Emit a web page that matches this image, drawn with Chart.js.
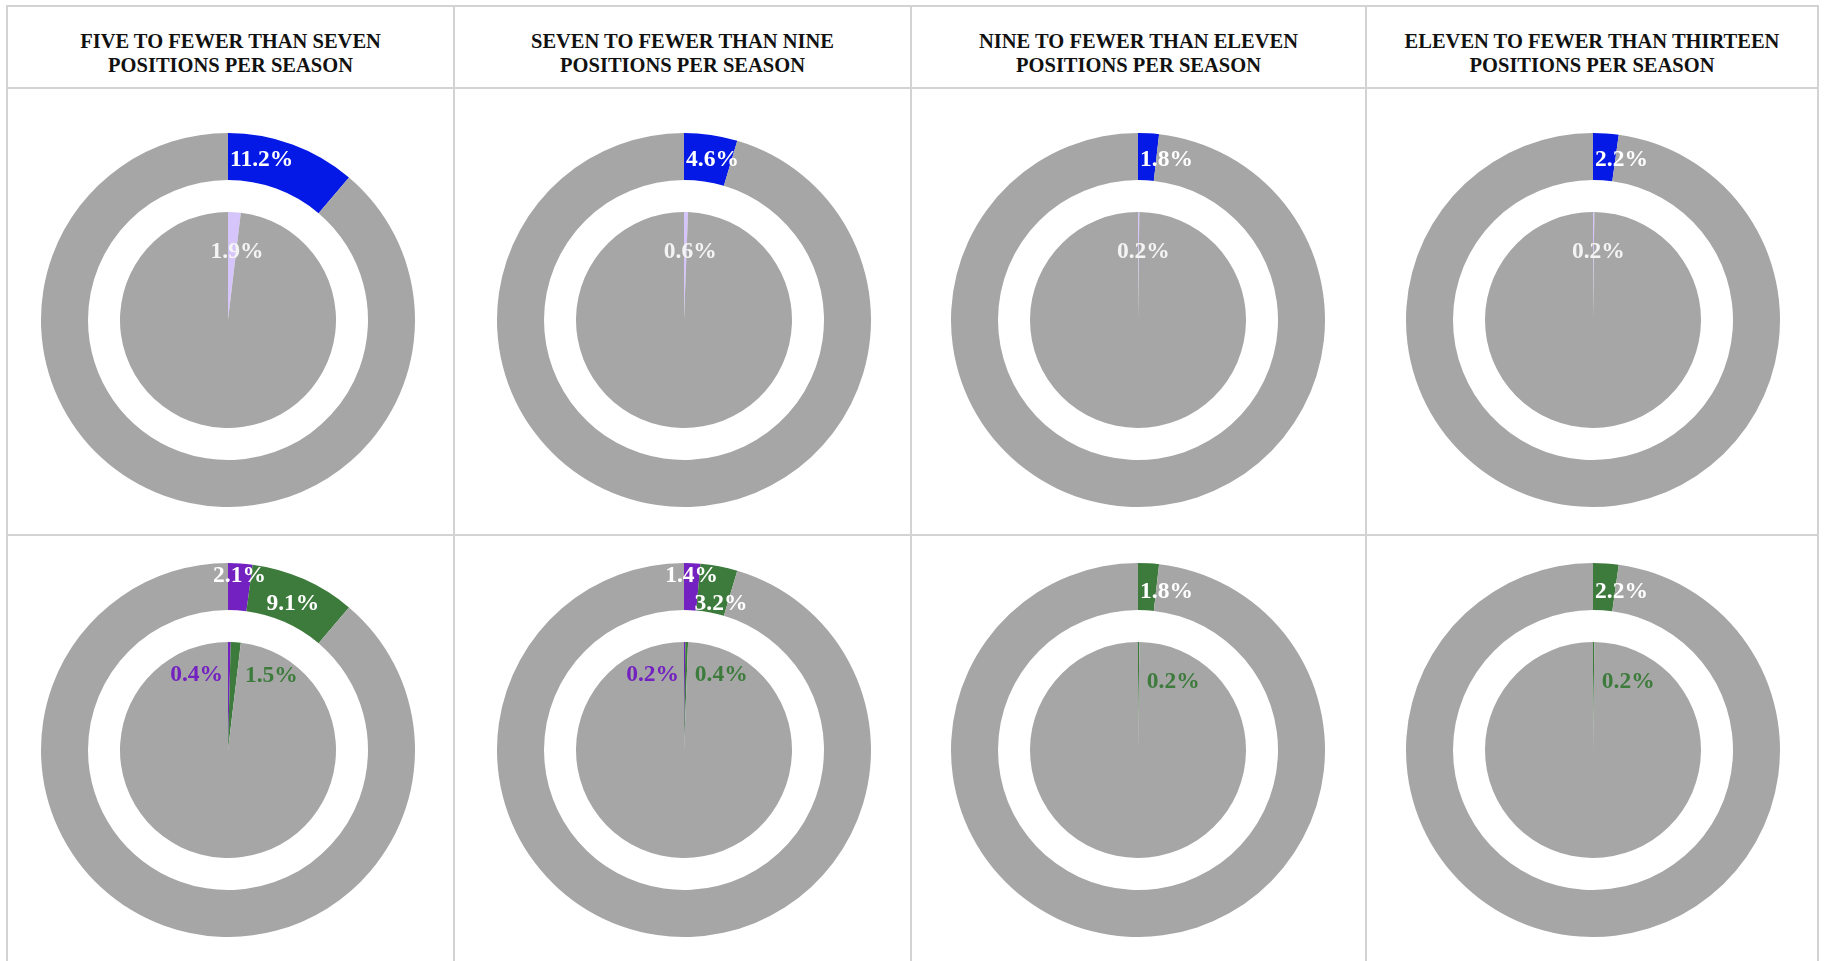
<!DOCTYPE html>
<html>
<head>
<meta charset="utf-8">
<script src="https://cdn.jsdelivr.net/npm/chart.js@4/dist/chart.umd.min.js"></script>
<style>
  html, body { margin: 0; padding: 0; background: #fff; }
  body { width: 1824px; height: 961px; overflow: hidden; position: relative; }
  .grid {
    position: absolute; left: 6px; top: 5px; width: 1813px;
    box-sizing: border-box; padding: 2px; background: #d3d3d3;
    display: grid; gap: 2px;
    grid-template-columns: 445px 455px 453px 450px;
    grid-template-rows: 80px 445px 500px;
  }
  .cell { background: #fff; }
  .head {
    display: flex; align-items: center; justify-content: center;
    box-sizing: border-box; padding-top: 12px;
    font: bold 20.5px/24px "Liberation Serif", "DejaVu Serif", serif;
    color: #111; text-align: center; white-space: pre-line;
  }
  canvas { position: absolute; }
</style>
</head>
<body>
<div class="grid" id="grid"></div>

<script>
const TITLES = [
  'FIVE TO FEWER THAN SEVEN\nPOSITIONS PER SEASON',
  'SEVEN TO FEWER THAN NINE\nPOSITIONS PER SEASON',
  'NINE TO FEWER THAN ELEVEN\nPOSITIONS PER SEASON',
  'ELEVEN TO FEWER THAN THIRTEEN\nPOSITIONS PER SEASON',
];

// top row: outer ring (blue) and inner pie (lilac), % of total
const TOP_OUTER_BLUE   = [11.2, 4.6, 1.8, 2.2];
const TOP_INNER_LILAC  = [1.9, 0.6, 0.2, 0.2];

// bottom row: purple / green split of the same shares
const BOT_OUTER_PURPLE = [2.1, 1.4, 0, 0];
const BOT_OUTER_GREEN  = [9.1, 3.2, 1.8, 2.2];
const BOT_INNER_PURPLE = [0.4, 0.2, 0, 0];
const BOT_INNER_GREEN  = [1.5, 0.4, 0.2, 0.2];

const GRAY   = '#a6a6a6';
const BLUE   = '#0418e6';
const LILAC  = '#d6c5fa';
const PURPLE = '#7321c0';
const GREEN  = '#3d7b3c';

const COL_X  = [228, 684, 1138, 1593];
const ROW_Y  = [320, 750];
const R_OUT  = 187;
const R_CUT  = 140;
const R_PIE  = 108;
const FONT   = 'bold 23.5px "Liberation Serif", "DejaVu Serif", serif';

// hand nudges where the reference moved a label off the slice
const NUDGE = { 'bot-outer-1-1': { dx: 7, dy: 11 } };

const grid = document.getElementById('grid');
TITLES.forEach(t => {
  const d = document.createElement('div');
  d.className = 'cell head';
  d.textContent = t;
  grid.appendChild(d);
});
for (let i = 0; i < 8; i++) {
  const d = document.createElement('div');
  d.className = 'cell';
  grid.appendChild(d);
}

const sliceLabels = {
  id: 'sliceLabels',
  afterDatasetsDraw(chart, args, opts) {
    const { ctx } = chart;
    const meta = chart.getDatasetMeta(0);
    const values = chart.data.datasets[0].data;
    ctx.save();
    ctx.font = FONT;
    ctx.textBaseline = 'middle';
    meta.data.forEach((arc, i) => {
      const spec = opts.specs[i];
      if (!spec || !values[i]) return;
      const { x, y, startAngle, endAngle } = arc.getProps(['x', 'y', 'startAngle', 'endAngle'], true);
      const a = spec.at === 'start' ? startAngle
              : spec.at === 'end'   ? endAngle
              : (startAngle + endAngle) / 2;
      const n = NUDGE[opts.key + '-' + i] || {};
      const px = x + Math.cos(a) * spec.r + (spec.dx || 0) + (n.dx || 0);
      const py = y + Math.sin(a) * spec.r + (spec.dy || 0) + (n.dy || 0);
      ctx.fillStyle = spec.color;
      ctx.textAlign = spec.align || 'center';
      ctx.fillText(values[i].toFixed(1) + '%', px, py);
    });
    ctx.restore();
  }
};

function makeChart(cx, cy, radius, cutout, values, colors, specs, key) {
  const c = document.createElement('canvas');
  c.width = radius * 2;
  c.height = radius * 2;
  c.style.left = (cx - radius) + 'px';
  c.style.top = (cy - radius) + 'px';
  document.body.appendChild(c);
  const rest = +(100 - values.reduce((s, v) => s + v, 0)).toFixed(1);
  return new Chart(c, {
    type: 'doughnut',
    data: {
      labels: colors.map((_, i) => 's' + i),
      datasets: [{
        data: [...values, rest],
        backgroundColor: [...colors, GRAY],
        borderWidth: 0,
        hoverOffset: 0,
      }],
    },
    options: {
      responsive: false,
      animation: false,
      events: [],
      cutout: cutout,
      layout: { padding: 0 },
      plugins: {
        legend: { display: false },
        tooltip: { enabled: false },
        sliceLabels: { specs, key },
      },
    },
    plugins: [sliceLabels],
  });
}

const cutPct = (R_CUT / R_OUT * 100) + '%';

COL_X.forEach((cx, i) => {
  // top row
  makeChart(cx, ROW_Y[0], R_OUT, cutPct, [TOP_OUTER_BLUE[i]], [BLUE],
    [{ at: 'start', r: 160, align: 'left', dx: 2, color: '#fff' }], 'top-outer-' + i);
  makeChart(cx, ROW_Y[0], R_PIE, 0, [TOP_INNER_LILAC[i]], [LILAC],
    [{ at: 'mid', r: 68, dx: 5, color: '#f4f4f4' }], 'top-inner-' + i);

  // bottom row
  const solo = BOT_OUTER_PURPLE[i] === 0;
  makeChart(cx, ROW_Y[1], R_OUT, cutPct, [BOT_OUTER_PURPLE[i], BOT_OUTER_GREEN[i]], [PURPLE, GREEN],
    [{ at: 'mid', r: 174, color: '#fff' },
     solo ? { at: 'start', r: 158, align: 'left', dx: 2, color: '#fff' }
          : { at: 'mid', r: 160, color: '#fff' }], 'bot-outer-' + i);
  makeChart(cx, ROW_Y[1], R_PIE, 0, [BOT_INNER_PURPLE[i], BOT_INNER_GREEN[i]], [PURPLE, GREEN],
    [{ at: 'start', r: 75, align: 'right', dx: -5, color: PURPLE },
     { at: 'end', r: solo ? 68 : 75, align: 'left', dx: 8, color: GREEN }], 'bot-inner-' + i);
});
</script>
</body>
</html>
